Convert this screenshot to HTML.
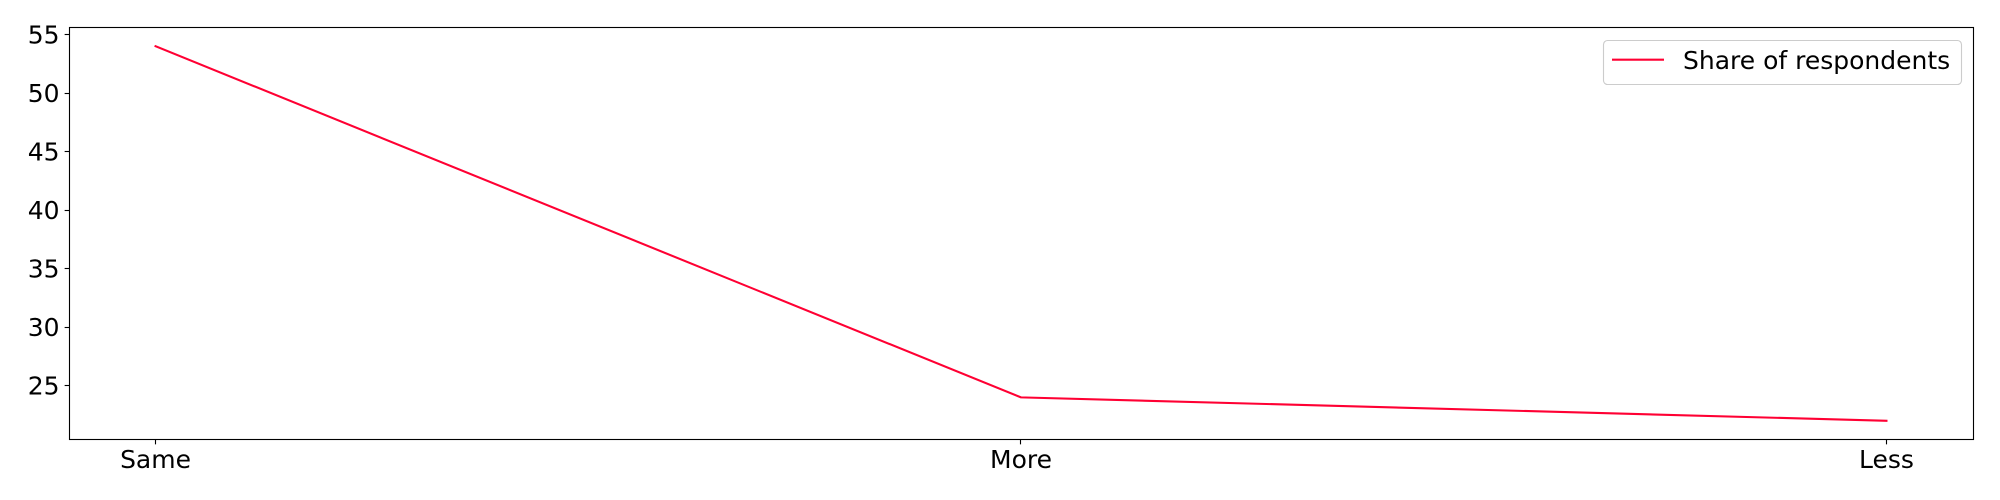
<!DOCTYPE html>
<html>
<head>
<meta charset="utf-8">
<title>Share of respondents</title>
<style>
html,body{margin:0;padding:0;background:#fff;width:2000px;height:500px;overflow:hidden}
svg{display:block}
text{font-family:"DejaVu Sans","Liberation Sans",sans-serif;font-size:25px;fill:#000}
</style>
</head>
<body>
<svg id="chart" xmlns="http://www.w3.org/2000/svg" width="2000" height="500" viewBox="0 0 2000 500">
  <rect x="0" y="0" width="2000" height="500" fill="#fff"/>
  <g id="ticks"></g>
  <polyline id="series" fill="none" stroke="#ff0033" stroke-width="2.08" stroke-linejoin="round" stroke-linecap="square"/>
  <rect x="69.5" y="27.5" width="1904" height="412" fill="none" stroke="#000" stroke-width="1.11"/>
  <g>
    <rect x="1603.5" y="40.5" width="358" height="44" rx="4" ry="4" fill="#fff" fill-opacity="0.8" stroke="#ccc" stroke-width="1.11"/>
    <line x1="1612" y1="59.7" x2="1664" y2="59.7" stroke="#ff0033" stroke-width="2.08"/>
    <text x="1683" y="69">Share of respondents</text>
  </g>
</svg>
<script>
const categories = ["Same", "More", "Less"];
const shareValues = [54, 24, 22];
const yTickLabels = [25, 30, 35, 40, 45, 50, 55];

const plotLeft = 69, plotRight = 1973, plotTop = 27.5, plotBottom = 439.5;
const NS = "http://www.w3.org/2000/svg";

function xScale(i) {
  const lo = 0, hi = categories.length - 1;
  const margin = (hi - lo) * 0.05;
  return plotLeft + (i - lo + margin) / (hi - lo + 2 * margin) * (plotRight - plotLeft);
}
function yScale(v) {
  const lo = Math.min(...shareValues), hi = Math.max(...shareValues);
  const margin = (hi - lo) * 0.05;
  return plotBottom - (v - lo + margin) / (hi - lo + 2 * margin) * (plotBottom - plotTop);
}
function snap(p) {
  return Math.floor(p - 0.01) + 0.5;
}

const ticks = document.getElementById("ticks");

function addTickMark(x1, y1, x2, y2) {
  const t = document.createElementNS(NS, "line");
  t.setAttribute("x1", x1);
  t.setAttribute("y1", y1);
  t.setAttribute("x2", x2);
  t.setAttribute("y2", y2);
  t.setAttribute("stroke", "#000");
  t.setAttribute("stroke-width", "1.11");
  
  
  ticks.appendChild(t);
}

function addTickLabel(x, y, anchor, str) {
  const t = document.createElementNS(NS, "text");
  t.setAttribute("x", x);
  t.setAttribute("y", y);
  t.setAttribute("text-anchor", anchor);
  t.textContent = str;
  
  
  ticks.appendChild(t);
}

categories.forEach(function (c, i) {
  const x = xScale(i);
  addTickMark(snap(x), plotBottom, snap(x), plotBottom + 4.86);
  addTickLabel(x, 468, "middle", c);
});

yTickLabels.forEach(function (v) {
  const y = yScale(v);
  addTickMark(69.5 - 4.86, snap(y), 69.5, snap(y));
  addTickLabel(59.5, y + 8.8, "end", String(v));
});

document.getElementById("series").setAttribute(
  "points",
  shareValues.map(function (v, i) { return xScale(i) + "," + yScale(v); }).join(" ")
);
</script>
</body>
</html>
